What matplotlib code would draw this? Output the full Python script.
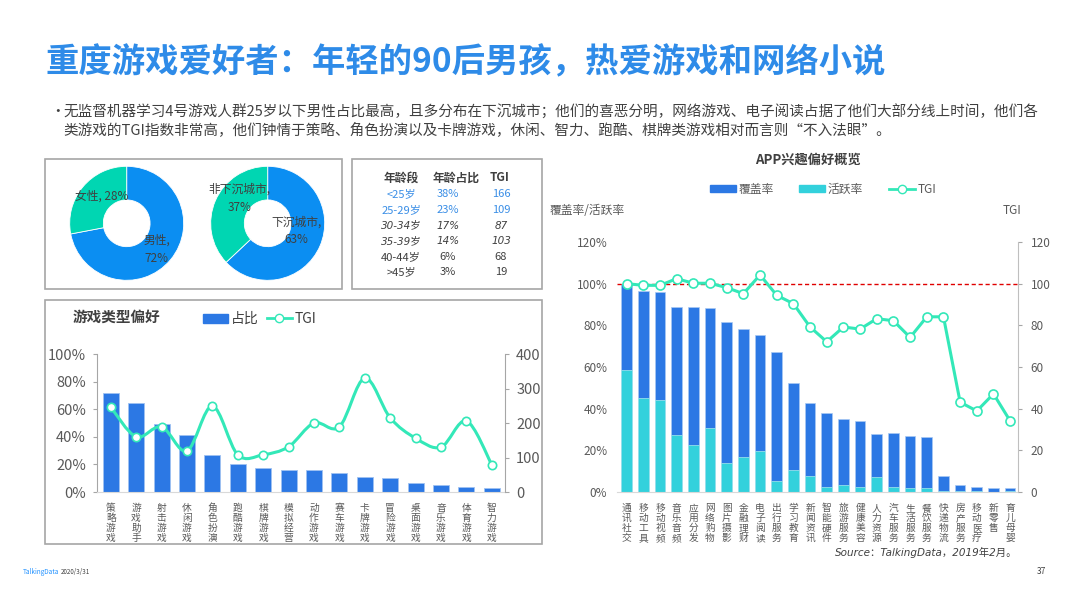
import matplotlib
matplotlib.use("Agg")
import matplotlib.pyplot as plt
from matplotlib.patches import Rectangle, Patch, PathPatch
from matplotlib.lines import Line2D
from matplotlib.path import Path
import matplotlib.ticker as ticker

plt.rcParams['font.family'] = ['Noto Sans CJK SC', 'DejaVu Sans']
plt.rcParams['axes.unicode_minus'] = False
ITALIC_FAMILY = ['DejaVu Sans', 'Noto Sans CJK SC']

# ── Data ──────────────────────────────────────────────────────────────────
gender_labels = ['男性', '女性']
gender_share = [72, 28]
city_labels = ['下沉城市', '非下沉城市']
city_share = [63, 37]

age_groups = ['<25岁', '25-29岁', '30-34岁', '35-39岁', '40-44岁', '>45岁']
age_share = ['38%', '23%', '17%', '14%', '6%', '3%']
age_tgi = ['166', '109', '87', '103', '68', '19']

game_types = ['策略游戏', '游戏助手', '射击游戏', '休闲游戏', '角色扮演', '跑酷游戏',
              '棋牌游戏', '模拟经营', '动作游戏', '赛车游戏', '卡牌游戏', '冒险游戏',
              '桌面游戏', '音乐游戏', '体育游戏', '智力游戏']
game_share = [71.8, 64.6, 49.6, 41.4, 27.0, 20.5, 17.6, 16.1, 15.7, 13.5, 11.1, 10.4,
              6.3, 4.8, 3.9, 3.1]
game_tgi = [246, 160, 189, 119, 249, 108, 108, 131, 200, 189, 330, 215, 156, 130, 206, 79]

apps = ['通讯社交', '移动工具', '移动视频', '音乐音频', '应用分发', '网络购物', '图片摄影',
        '金融理财', '电子阅读', '出行服务', '学习教育', '新闻资讯', '智能硬件', '旅游服务',
        '健康美容', '人力资源', '汽车服务', '生活服务', '餐饮服务', '快递物流', '房产服务',
        '移动医疗', '新零售', '育儿母婴']
app_coverage = [100, 96.5, 96.0, 88.8, 88.8, 88.3, 81.7, 78.2, 75.2, 67.0, 52.2, 42.8,
                37.8, 35.1, 34.1, 28.0, 28.2, 27.1, 26.6, 7.9, 3.5, 2.6, 1.9, 1.9]
app_active = [58.7, 44.9, 44.4, 27.2, 22.8, 30.8, 13.8, 16.7, 19.7, 5.4, 10.7, 7.9,
              2.4, 3.4, 2.4, 7.2, 2.6, 2.1, 1.8, 0.6, 0.3, 0.3, 0.2, 0.3]
app_tgi = [100, 99.2, 99.2, 102.4, 100.2, 100.2, 98.1, 95.2, 104.2, 94.4, 90.4, 79.2,
           72.1, 79.2, 78.2, 83.2, 82.2, 74.2, 84.1, 84.1, 43.1, 38.9, 47.1, 34.1]

# ── Styles ────────────────────────────────────────────────────────────────
W, H = 1066, 599
TITLE_BLUE = "#2e8be8"
TEXT = "#404040"
TICK = "#595959"
BOX = "#a6a6a6"
DONUT_BLUE = "#0b8ef2"
DONUT_TEAL = "#00d6b2"
BAR_BLUE = "#2c78e4"
BAR_CYAN = "#33d1dc"
MINT = "#33e8b8"


def fx(px):
    return px / W


def fy(py):
    return 1 - py / H


def box(x0, y0, x1, y1):
    fig.add_artist(Rectangle((fx(x0), fy(y1)), fx(x1 - x0), (y1 - y0) / H,
                             transform=fig.transFigure, fill=False,
                             edgecolor=BOX, linewidth=1.2))


def smooth_path(xs, ys):
    # catmull-rom through the points, drawn as bezier segments
    verts = [(xs[0], ys[0])]
    codes = [Path.MOVETO]
    n = len(xs)
    for i in range(n - 1):
        p0 = (xs[i - 1], ys[i - 1]) if i > 0 else (xs[i], ys[i])
        p1 = (xs[i], ys[i])
        p2 = (xs[i + 1], ys[i + 1])
        p3 = (xs[i + 2], ys[i + 2]) if i + 2 < n else p2
        c1 = (p1[0] + (p2[0] - p0[0]) / 6, p1[1] + (p2[1] - p0[1]) / 6)
        c2 = (p2[0] - (p3[0] - p1[0]) / 6, p2[1] - (p3[1] - p1[1]) / 6)
        verts += [c1, c2, p2]
        codes += [Path.CURVE4] * 3
    return Path(verts, codes)


def vertical(label):
    return "\n".join(label)


fig = plt.figure(figsize=(W / 100, H / 100), dpi=100)
fig.patch.set_facecolor("white")

# ── Header ────────────────────────────────────────────────────────────────
fig.text(fx(45), fy(63), "重度游戏爱好者：年轻的90后男孩，热爱游戏和网络小说",
         fontsize=24, fontweight="bold", color=TITLE_BLUE, va="center", ha="left")
fig.text(fx(50), fy(112), "•", fontsize=10.5, color=TEXT, va="center")
fig.text(fx(63), fy(112),
         "无监督机器学习4号游戏人群25岁以下男性占比最高，且多分布在下沉城市；他们的喜恶分明，"
         "网络游戏、电子阅读占据了他们大部分线上时间，他们各",
         fontsize=10.5, color=TEXT, va="center")
fig.text(fx(63), fy(130),
         "类游戏的TGI指数非常高，他们钟情于策略、角色扮演以及卡牌游戏，休闲、智力、跑酷、"
         "棋牌类游戏相对而言则“不入法眼”。",
         fontsize=10.5, color=TEXT, va="center")

# ── Panel boxes ───────────────────────────────────────────────────────────
box(45, 159, 342, 289)
box(352, 159, 542, 289)
box(45, 300, 542, 544)

# ── Donuts ────────────────────────────────────────────────────────────────
r = 57
for cx, shares, labels, spots in [
        (126.7, gender_share, gender_labels, [(0.53, -0.46), (-0.44, 0.47)]),
        (267.7, city_share, city_labels, [(0.51, -0.13), (-0.50, 0.44)])]:
    ax = fig.add_axes([fx(cx - r), fy(223.3 + r), 2 * r / W, 2 * r / H])
    ax.pie(shares, colors=[DONUT_BLUE, DONUT_TEAL], startangle=90, counterclock=False,
           radius=1, wedgeprops=dict(width=0.59, edgecolor="white", linewidth=0.6))
    ax.set_xlim(-1, 1)
    ax.set_ylim(-1, 1)
    ax.set_aspect("auto")
    ax.axis("off")
    for lab, val, (tx, ty) in zip(labels, shares, spots):
        txt = f"{lab}, {val}%" if lab == "女性" else f"{lab},\n{val}%"
        ax.text(tx, ty, txt, fontsize=8.5, color=TEXT, ha="center", va="center",
                linespacing=1.5)

# ── Age table ─────────────────────────────────────────────────────────────
for x, head in [(401, "年龄段"), (456, "年龄占比"), (500, "TGI")]:
    fig.text(fx(x), fy(178), head, fontsize=8.5, fontweight="bold", color=TEXT,
             ha="center", va="center")
for i, (g, s, t) in enumerate(zip(age_groups, age_share, age_tgi)):
    y = 194.3 + i * 15.6
    color = "#3a8ee6" if i < 2 else TEXT
    kw = dict(fontsize=8, color=color, ha="center", va="center")
    if i in (2, 3):
        kw.update(style="italic", family=ITALIC_FAMILY, fontsize=7.5)
    fig.text(fx(401), fy(y), g, **kw)
    fig.text(fx(448), fy(y), s, **kw)
    fig.text(fx(501), fy(y), t, **kw)

# ── Game type preference ──────────────────────────────────────────────────
ax = fig.add_axes([fx(97), fy(492), fx(505 - 97), (492 - 354) / H])
xs = list(range(len(game_types)))
ax.bar(xs, game_share, width=0.63, color=BAR_BLUE, edgecolor="#9fc2f2", linewidth=0.6)
ax.set_xlim(-0.54, len(game_types) - 0.48)
ax.set_ylim(0, 100)
ax.set_yticks(range(0, 101, 20))
ax.yaxis.set_major_formatter(ticker.FuncFormatter(lambda v, p: f"{v:.0f}%"))
ax.set_xticks(xs)
ax.set_xticklabels([vertical(g) for g in game_types], fontsize=7, color=TICK,
                   linespacing=1.0, va="top")
ax.tick_params(axis="x", length=0, pad=8)
ax.tick_params(axis="y", direction="out", length=3, color=BOX, labelsize=10.5,
               labelcolor=TICK, pad=5)
ax.spines["top"].set_visible(False)
ax.spines["left"].set_color(BOX)
ax.spines["right"].set_visible(False)
ax.spines["bottom"].set_color("#d9d9d9")

ax2 = ax.twinx()
ax2.set_ylim(0, 400)
ax2.set_yticks(range(0, 401, 100))
ax2.add_patch(PathPatch(smooth_path(xs, game_tgi), fill=False, edgecolor=MINT, linewidth=2.2))
ax2.plot(xs, game_tgi, "o", linestyle="none", markersize=6, markerfacecolor="white",
         markeredgecolor=MINT, markeredgewidth=1.2)
ax2.tick_params(axis="y", direction="out", length=3, color=BOX, labelsize=10.5,
                labelcolor=TICK, pad=5)
for side in ["top", "left", "bottom"]:
    ax2.spines[side].set_visible(False)
ax2.spines["right"].set_color(BOX)

fig.text(fx(73), fy(317), "游戏类型偏好", fontsize=10.5, fontweight="bold", color=TEXT,
         ha="left", va="center")
ax.legend([Patch(color=BAR_BLUE),
           Line2D([], [], color=MINT, lw=2, marker="o", markersize=6,
                  markerfacecolor="white", markeredgecolor=MINT)],
          ["占比", "TGI"], loc="center left", bbox_to_anchor=(fx(196), fy(319)),
          bbox_transform=fig.transFigure, ncol=2, frameon=False, fontsize=10,
          handlelength=1.8, handleheight=0.6, handletextpad=0.2, columnspacing=0.6,
          borderpad=0, labelcolor=TEXT)

# ── APP interest overview ─────────────────────────────────────────────────
bx = fig.add_axes([fx(617), fy(492), fx(1018 - 617), (492 - 242) / H])
xa = list(range(len(apps)))
bx.bar(xa, app_coverage, width=0.64, color=BAR_BLUE, edgecolor="#a9c9f3", linewidth=0.5)
bx.bar(xa, app_active, width=0.64, color=BAR_CYAN, edgecolor="#a9e9ee", linewidth=0.5)
bx.set_xlim(-0.58, len(apps) - 0.53)
bx.set_ylim(0, 120)
bx.set_yticks(range(0, 121, 20))
bx.yaxis.set_major_formatter(ticker.FuncFormatter(lambda v, p: f"{v:.0f}%"))
bx.set_xticks(xa)
bx.set_xticklabels([vertical(a) for a in apps], fontsize=7, color=TICK,
                   linespacing=1.0, va="top")
bx.tick_params(axis="x", length=0, pad=8)
bx.tick_params(axis="y", length=0, labelsize=8.5, labelcolor=TICK, pad=7)
for side in ["top", "left", "right"]:
    bx.spines[side].set_visible(False)
bx.spines["bottom"].set_color("#d9d9d9")

bx2 = bx.twinx()
bx2.set_ylim(0, 120)
bx2.set_yticks(range(0, 121, 20))
bx2.axhline(100, color="#e00000", linestyle=(0, (3, 2)), linewidth=1)
bx2.plot(xa, app_tgi, color=MINT, linewidth=2.2, marker="o", markersize=6.5,
         markerfacecolor="white", markeredgecolor=MINT, markeredgewidth=1.2)
bx2.tick_params(axis="y", direction="out", length=3, color=BOX, labelsize=8.5,
                labelcolor=TICK, pad=6)
for side in ["top", "left", "bottom"]:
    bx2.spines[side].set_visible(False)
bx2.spines["right"].set_color("#bfbfbf")

fig.text(fx(808), fy(160), "APP兴趣偏好概览", fontsize=9.5, fontweight="bold", color=TEXT,
         ha="center", va="center")
fig.text(fx(550), fy(211), "覆盖率/活跃率", fontsize=8.5, color=TICK, ha="left", va="center")
fig.text(fx(1021), fy(211), "TGI", fontsize=8.5, color=TICK, ha="right", va="center")
bx.legend([Patch(color=BAR_BLUE), Patch(color=BAR_CYAN),
           Line2D([], [], color=MINT, lw=2, marker="o", markersize=6,
                  markerfacecolor="white", markeredgecolor=MINT)],
          ["覆盖率", "活跃率", "TGI"], loc="center left", bbox_to_anchor=(fx(704), fy(189)),
          bbox_transform=fig.transFigure, ncol=3, frameon=False, fontsize=8.5,
          handlelength=2.2, handleheight=0.6, handletextpad=0.2, columnspacing=2.2,
          borderpad=0, labelcolor=TICK)

fig.text(fx(1017), fy(552), "Source：TalkingData，2019年2月。", fontsize=7.5, style="italic",
         family=ITALIC_FAMILY, color=TEXT, ha="right", va="center")

# ── Footer ────────────────────────────────────────────────────────────────
fig.text(fx(23), fy(572), "TalkingData", fontsize=4.6, color="#1e90ff", va="center")
fig.text(fx(61), fy(572), "2020/3/31", fontsize=4.5, color=TEXT, va="center")
fig.text(fx(1046), fy(572), "37", fontsize=6, color=TEXT, ha="right", va="center")

fig.savefig("out.png", dpi=100, facecolor="white")
plt.close(fig)
